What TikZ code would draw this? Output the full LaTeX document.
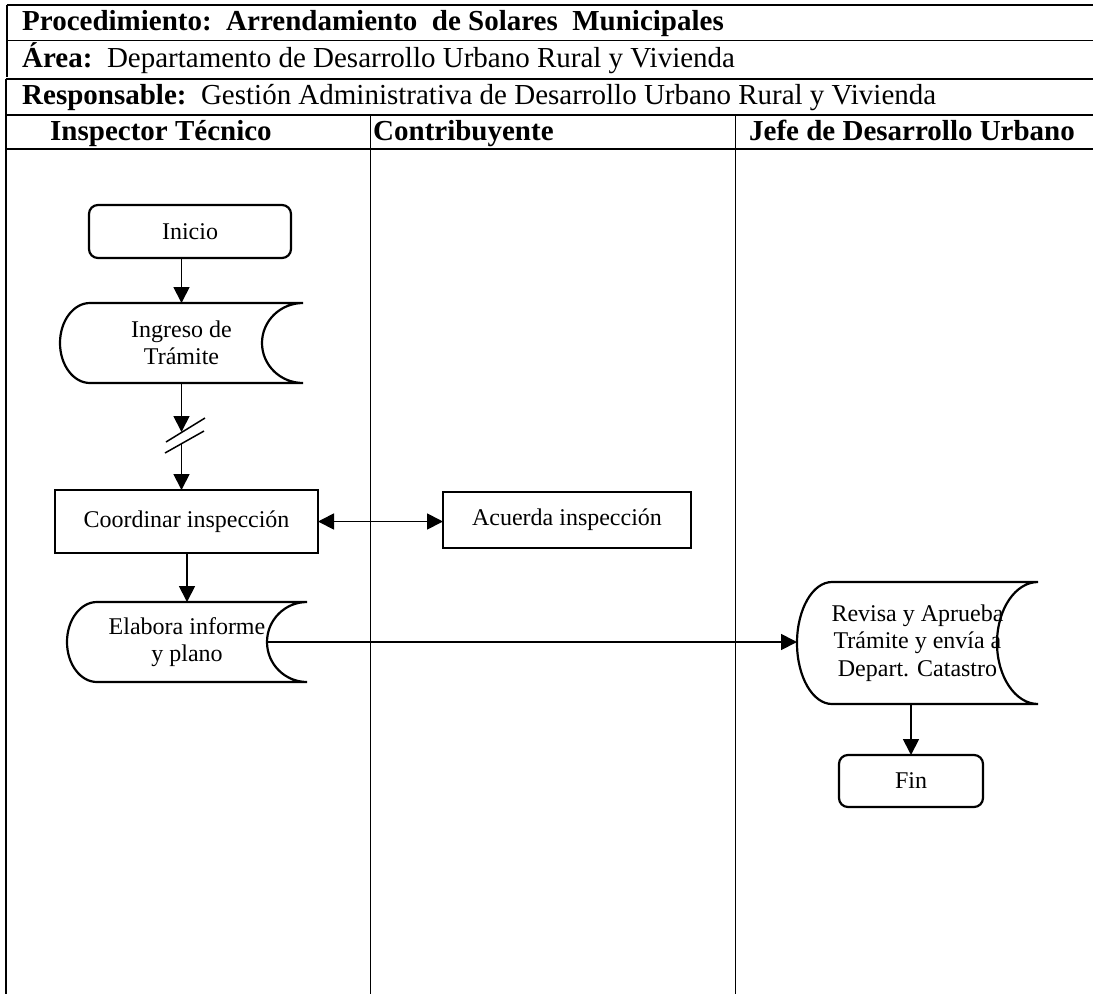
\documentclass[tikz,border=0pt]{standalone}
\usepackage{fontspec}
\setmainfont{Liberation Serif}
\usetikzlibrary{arrows.meta}

% outline of a "stored data" symbol drawn round a named node:
% #1 node, #2 depth of the left bulge, #3 depth of the right hollow, #4 half height
\newcommand\storedframe[4]{%
  \draw[shapeline] (#1.north east) -- ([xshift=#2pt]#1.north west)
    arc[start angle=270,end angle=90,x radius=#2,y radius=#4]
    -- (#1.south east)
    arc[start angle=90,end angle=270,x radius=#3,y radius=#4];
}

\begin{document}
\begin{tikzpicture}[x=1pt,y=-1pt,
  rule/.style={line width=1.5pt},
  shapeline/.style={line width=2.2pt},
  flow/.style={line width=1.8pt,-{Triangle[length=16pt,width=16pt]}},
  flowboth/.style={line width=1.8pt,{Triangle[length=16pt,width=16pt]}-{Triangle[length=16pt,width=16pt]}},
  body/.style={font=\fontsize{24}{27.5}\selectfont, align=center, inner sep=0pt, outer sep=0pt},
  terminal/.style={body, draw, shapeline, rounded corners=9pt},
  process/.style={body, draw, shapeline},
  stored/.style={body},
  head/.style={font=\fontsize{29}{33}\selectfont, anchor=base west, inner sep=0pt},
]
\useasboundingbox (0,0) rectangle (1093,994);

% table rules
\draw[rule] (6.5,5) -- (1093,5);
\draw[rule] (6.5,40.5) -- (1093,40.5);
\draw[rule] (6,79) -- (1093,79);
\draw[rule] (6,115) -- (1093,115);
\draw[rule] (6,149) -- (1093,149);
\draw[rule] (7,5) -- (7,77);
\draw[rule] (6,79) -- (6,994);
\draw[rule] (370.7,115) -- (370.7,994);
\draw[rule] (735.3,115) -- (735.3,994);

% header texts
\node[head] (hproc) at (22,30) {\textbf{Procedimiento:\ \ Arrendamiento\ \ de Solares\ \ Municipales}};
\node[head] (harea) at (22,67) {\textbf{Área:}\ \ Departamento de Desarrollo Urbano Rural y Vivienda};
\node[head] (hresp) at (22,104) {\textbf{Responsable:}\ \ Gestión Administrativa de Desarrollo Urbano Rural y Vivienda};
\node[head] (hinsp) at (50,140) {\textbf{Inspector Técnico}};
\node[head] (hcontr) at (373,140) {\textbf{Contribuyente}};
\node[head] (hjefe) at (749,140) {\textbf{Jefe de Desarrollo Urbano}};

% flow symbols
\node[terminal, minimum width=202, minimum height=53] (inicio) at (190,231.5) {Inicio};
\node[stored, minimum width=243, minimum height=80] (ingreso) at (181.5,343) {Ingreso de\\Trámite};
\storedframe{ingreso}{30}{41}{40}
\node[process, minimum width=263, minimum height=63] (coord) at (186.5,521.5) {Coordinar inspección};
\node[process, minimum width=248, minimum height=56] (acuerda) at (567,520) {Acuerda inspección};
\node[stored, minimum width=240, minimum height=80] (elabora) at (187,642) {Elabora informe\\y plano};
\storedframe{elabora}{30}{40}{40}
\node[stored, minimum width=241, minimum height=122] (revisa) at (917.5,643) {Revisa y Aprueba\\Trámite y envía a\\Depart. Catastro};
\storedframe{revisa}{35}{41}{61}
\node[terminal, minimum width=144, minimum height=52] (fin) at (911,781) {Fin};

% break mark on the flow line below the first record
\coordinate (brkA) at (181.5,432);
\coordinate (brkB) at (181.5,443);
\coordinate (slashA1) at (166,442);
\coordinate (slashA2) at (205,418);
\coordinate (slashB1) at (165,453);
\coordinate (slashB2) at (204,431);

% connectors
\draw[flow] (inicio.south -| ingreso.north) -- (ingreso.north);
\draw[flow] (ingreso.south) -- (brkA);
\draw[line width=1.5pt] (slashA1) -- (slashA2);
\draw[line width=1.5pt] (slashB1) -- (slashB2);
\draw[flow] (brkB) -- (brkB |- coord.north);
\draw[flowboth] (coord.east) -- (coord.east -| acuerda.west);
\draw[flow] (coord.south -| elabora.north) -- (elabora.north);
\draw[flow] ([xshift=-40pt]elabora.east) -- (elabora.east -| revisa.west);
\draw[flow] (fin.north |- revisa.south) -- (fin.north);
\end{tikzpicture}
\end{document}
